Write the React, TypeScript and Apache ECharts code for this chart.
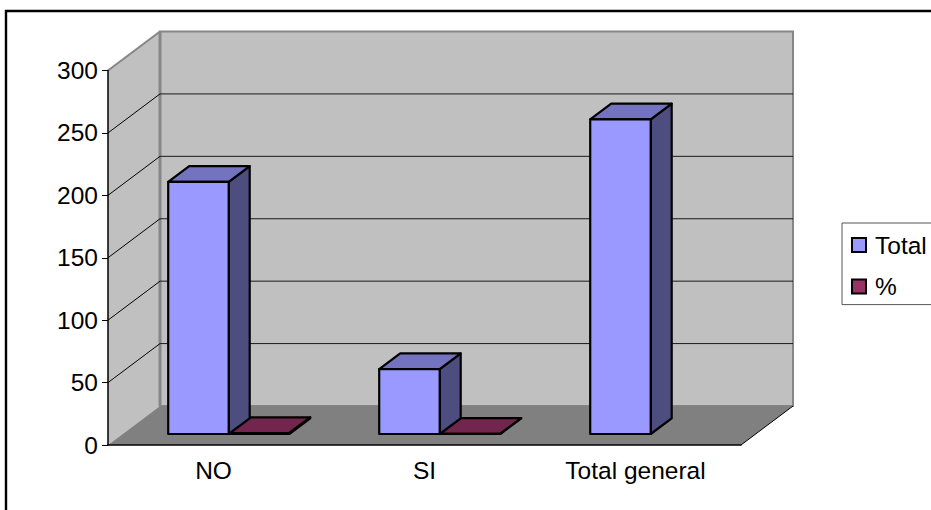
import React, { useEffect, useRef } from "react";
import * as echarts from "echarts";

const categories = ["NO", "SI", "Total general"];
const totalValues: (number | null)[] = [202, 52, 252];
const percentValues: (number | null)[] = [0.8, 0.2, null];
const valueTicks = [0, 50, 100, 150, 200, 250, 300];

const FONT = "'Liberation Sans', Arial, sans-serif";
const FONT_SIZE = 24.5;
const WALL = "#C0C0C0";
const FLOOR = "#808080";
const WALL_EDGE = "#868686";

// Oblique projection offsets, in pixels, of the simulated 3D box.
const BOX_DX = 52;
const BOX_DY = -39;
const FRONT_DX = 15.2;
const FRONT_DY = -11;
const BAR_DX = 21;
const BAR_DY = -15.7;
const BAR_BAND_RATIO = 0.2867;

function renderBox(params: any, api: any) {
  const { x, y, width, height } = params.coordSys;
  const bottom = y + height;
  const children: any[] = [
    {
      type: "polygon",
      shape: { points: [[x, bottom], [x, y], [x + BOX_DX, y + BOX_DY], [x + BOX_DX, bottom + BOX_DY]] },
      style: { fill: WALL, stroke: null },
    },
    {
      type: "rect",
      shape: { x: x + BOX_DX, y: y + BOX_DY, width, height },
      style: { fill: WALL, stroke: WALL_EDGE, lineWidth: 2 },
    },
    {
      type: "line",
      shape: { x1: x + BOX_DX, y1: y + BOX_DY, x2: x + BOX_DX, y2: bottom + BOX_DY },
      style: { stroke: WALL_EDGE, lineWidth: 3 },
    },
    {
      type: "polygon",
      shape: {
        points: [
          [x, bottom],
          [x + width, bottom],
          [x + width + BOX_DX, bottom + BOX_DY],
          [x + BOX_DX, bottom + BOX_DY],
        ],
      },
      style: { fill: FLOOR, stroke: null },
    },
    {
      type: "line",
      shape: { x1: x + width, y1: bottom, x2: x + width + BOX_DX, y2: bottom + BOX_DY },
      style: { stroke: "#000", lineWidth: 1 },
    },
  ];
  valueTicks.forEach((tick) => {
    const py = api.coord([0, tick])[1];
    if (tick > 0) {
      children.push({
        type: "line",
        shape: { x1: x, y1: py, x2: x + BOX_DX, y2: py + BOX_DY },
        style: { stroke: tick === 300 ? WALL_EDGE : "#000", lineWidth: tick === 300 ? 2 : 1 },
      });
    }
    if (tick > 0 && tick < 300) {
      children.push({
        type: "line",
        shape: { x1: x + BOX_DX, y1: py + BOX_DY, x2: x + BOX_DX + width, y2: py + BOX_DY },
        style: { stroke: "#1A1A1A", lineWidth: 1 },
      });
    }
  });
  return { type: "group", children };
}

function barRenderer(slot: number, front: string, top: string, side: string) {
  return (_params: any, api: any) => {
    const center = api.coord([api.value(0), 0]);
    const head = api.coord([api.value(0), api.value(1)]);
    const w = api.size([1, 0])[0] * BAR_BAND_RATIO;
    const x0 = center[0] + FRONT_DX + slot * w;
    const x1 = x0 + w;
    const yb = center[1] + FRONT_DY;
    const yt = head[1] + FRONT_DY;
    const edge = { stroke: "#000", lineWidth: 2.2, lineJoin: "round" };
    return {
      type: "group",
      children: [
        {
          type: "polygon",
          shape: { points: [[x1, yb], [x1 + BAR_DX, yb + BAR_DY], [x1 + BAR_DX, yt + BAR_DY], [x1, yt]] },
          style: { fill: side, ...edge },
        },
        {
          type: "polygon",
          shape: { points: [[x0, yt], [x1, yt], [x1 + BAR_DX, yt + BAR_DY], [x0 + BAR_DX, yt + BAR_DY]] },
          style: { fill: top, ...edge },
        },
        {
          type: "rect",
          shape: { x: x0, y: yt, width: w, height: yb - yt },
          style: { fill: front, ...edge },
        },
      ],
    };
  };
}

const toPoints = (values: (number | null)[]) =>
  values.flatMap((v, i) => (v === null ? [] : [[i, v]]));

export default function App() {
  const ref = useRef<HTMLDivElement>(null);

  useEffect(() => {
    if (!ref.current) return;
    const chart = echarts.init(ref.current, undefined, { renderer: "svg" });
    chart.setOption({
      animation: false,
      backgroundColor: "#FFFFFF",
      grid: { left: 108, top: 70.5, width: 633, height: 374.5 },
      xAxis: {
        type: "category",
        data: categories,
        z: 6,
        axisLine: { lineStyle: { color: "#000", width: 1.5 } },
        axisTick: { length: 6, lineStyle: { color: "#000" } },
        axisLabel: { color: "#000", fontFamily: FONT, fontSize: FONT_SIZE, margin: 13 },
        splitLine: { show: false },
      },
      yAxis: {
        type: "value",
        min: 0,
        max: 300,
        interval: 50,
        z: 6,
        axisLine: { show: true, lineStyle: { color: "#000", width: 1.5 } },
        axisTick: { show: true, length: 6, lineStyle: { color: "#000" } },
        axisLabel: { color: "#000", fontFamily: FONT, fontSize: FONT_SIZE, margin: 10 },
        splitLine: { show: false },
      },
      legend: {
        data: ["Total", "%"],
        orient: "vertical",
        icon: "rect",
        left: 842,
        top: 223,
        padding: [9.5, 14, 5.6, 9],
        itemGap: 16.5,
        itemWidth: 14,
        itemHeight: 14,
        backgroundColor: "#FFFFFF",
        borderColor: "#555",
        borderWidth: 1,
        textStyle: { color: "#000", fontFamily: FONT, fontSize: FONT_SIZE, padding: [0, 0, 4, 4] },
      },
      graphic: [
        {
          type: "rect",
          z: -1,
          shape: { x: 6, y: 11, width: 960, height: 540 },
          style: { fill: "transparent", stroke: "#000", lineWidth: 2.4 },
        },
      ],
      series: [
        {
          type: "custom",
          name: "box",
          z: 1,
          clip: false,
          silent: true,
          data: [[0, 0]],
          renderItem: renderBox,
        },
        {
          type: "custom",
          name: "Total",
          z: 3,
          clip: false,
          itemStyle: { color: "#9999FF", borderColor: "#000", borderWidth: 1.5 },
          data: toPoints(totalValues),
          encode: { x: 0, y: 1 },
          renderItem: barRenderer(-1, "#9999FF", "#7373BF", "#4D4D80"),
        },
        {
          type: "custom",
          name: "%",
          z: 2,
          clip: false,
          itemStyle: { color: "#993366", borderColor: "#000", borderWidth: 1.5 },
          data: toPoints(percentValues),
          encode: { x: 0, y: 1 },
          renderItem: barRenderer(0, "#993366", "#73264D", "#4D1A33"),
        },
      ],
    });
    return () => chart.dispose();
  }, []);

  return <div ref={ref} style={{ position: "fixed", left: 0, top: 0, width: 931, height: 510 }} />;
}
